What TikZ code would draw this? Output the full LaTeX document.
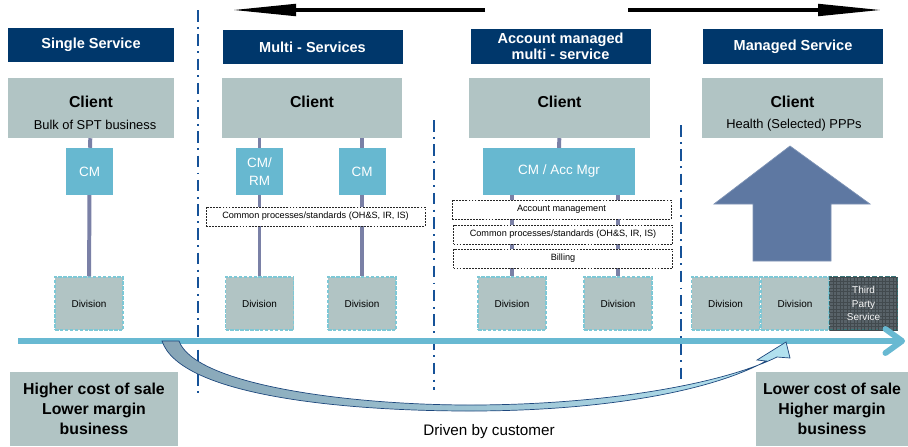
\documentclass[tikz,border=0pt]{standalone}
\usepackage{fontspec}
\setmainfont{Liberation Sans}
\usetikzlibrary{arrows.meta, positioning, patterns}
\usepackage{xcolor}

\definecolor{hdrblue}{RGB}{0,55,107}
\definecolor{clientgrey}{RGB}{177,196,196}
\definecolor{cmblue}{RGB}{103,184,208}
\definecolor{linkslate}{RGB}{122,128,166}
\definecolor{divcyan}{RGB}{125,200,214}
\definecolor{tpgrey}{RGB}{88,98,104}
\definecolor{tpteal}{RGB}{55,115,118}
\definecolor{sepblue}{RGB}{22,82,152}
\definecolor{axisblue}{RGB}{104,185,210}
\definecolor{bigarrow}{RGB}{94,120,162}
\definecolor{curveL}{RGB}{135,165,182}
\definecolor{curveR}{RGB}{178,226,240}
\definecolor{curvedraw}{RGB}{30,72,125}

\begin{document}
\begin{tikzpicture}[
    x=0.03cm, y=-0.03cm,
    hdr/.style={rectangle, fill=hdrblue, text=white, align=center, inner sep=0pt, minimum height=1.04cm, font=\fontsize{12.4}{13.6}\selectfont\bfseries},
    clientbox/.style={rectangle, fill=clientgrey, minimum height=1.8cm},
    clienttxt/.style={inner sep=0pt, font=\fontsize{13.5}{15}\selectfont\bfseries},
    subtxt/.style={inner sep=0pt, font=\fontsize{11}{13}\selectfont},
    cmbox/.style={rectangle, fill=cmblue, text=white, align=center, inner sep=0pt, minimum width=1.41cm, minimum height=1.41cm, font=\fontsize{11.5}{16}\selectfont},
    divbox/.style={rectangle, fill=clientgrey, draw=divcyan, line width=1.1pt, dash pattern=on 3pt off 1.2pt, inner sep=0pt, minimum width=2.04cm, minimum height=1.59cm, font=\fontsize{8.5}{10}\selectfont},
    tpbox/.style={rectangle, fill=tpgrey, postaction={pattern=grid, pattern color=tpgrey!75!black}, draw=tpteal, line width=1.6pt, dash pattern=on 4pt off 1.5pt, text=white!92!gray, align=center, inner sep=0pt, minimum width=2.04cm, minimum height=1.59cm, font=\fontsize{8.5}{11.5}\selectfont},
    combox/.style={rectangle, fill=white, draw=black!85, line width=0.6pt, dash pattern=on 1.6pt off 1pt, inner sep=0pt, minimum width=6.57cm, minimum height=0.57cm, font=\fontsize{7.8}{9}\selectfont},
    costbox/.style={rectangle, fill=clientgrey, align=center, inner sep=0pt, minimum height=2.22cm, font=\fontsize{13.5}{17}\selectfont\bfseries},
    link/.style={draw=linkslate, line width=3.4pt},
    sepline/.style={draw=sepblue, line width=2.4pt, dash pattern=on 10pt off 4.5pt on 1.7pt off 4.5pt},
    toparrow/.style={line width=3.4pt, -{Triangle[length=1.95cm, width=0.34cm]}},
    axis/.style={draw=axisblue, line width=5pt, -{Straight Barb[length=0.5cm, width=0.72cm, round]}}
]
    \useasboundingbox (0,0) rectangle (908,446);

    % separators
    \draw[sepline] (198,10) -- (198,398);
    \draw[sepline] (434,120) -- (434,390);
    \draw[sepline] (681,125) -- (681,380);

    % top arrows
    \coordinate (backA) at (485,10);
    \coordinate (backB) at (231,10);
    \coordinate (fwdA) at (628,10);
    \coordinate (fwdB) at (883,10);
    \draw[toparrow] (backA) -- (backB);
    \draw[toparrow] (fwdA) -- (fwdB);

    % headers
    \node[hdr, minimum width=4.98cm] (single) at (91,45) {Single Service};
    \node[hdr, minimum width=5.4cm] (multi) at (312.5,47) {Multi - Services};
    \node[hdr, minimum width=5.4cm] (acct) at (560.5,46.5) {Account managed\\multi - service};
    \node[hdr, minimum width=5.4cm] (managed) at (793,46.5) {Managed Service};

    % clients
    \node[clientbox, minimum width=4.98cm] (cl1) at (91,108) {};
    \node[clientbox, minimum width=5.4cm] (cl2) at (312,108) {};
    \node[clientbox, minimum width=5.43cm] (cl3) at (559.5,108) {};
    \node[clientbox, minimum width=5.43cm] (cl4) at (792.5,108) {};
    \node[clienttxt] (cl1t) at (91,102) {Client};
    \node[subtxt] (cl1s) at (95,125) {Bulk of SPT business};
    \node[clienttxt] (cl2t) at (312,102) {Client};
    \node[clienttxt] (cl3t) at (559.5,102) {Client};
    \node[clienttxt] (cl4t) at (792.5,102) {Client};
    \node[subtxt] (cl4s) at (794,125) {Health (Selected) PPPs};

    % managers
    \node[cmbox] (cm1) at (89.5,171.5) {CM};
    \node[cmbox] (cmrm) at (259.5,171.5) {CM/\\RM};
    \node[cmbox] (cm2) at (362,171.5) {CM};
    \node[cmbox, minimum width=4.56cm] (cmacc) at (559,171.5) {CM / Acc Mgr};

    % divisions
    \node[divbox] (dv1) at (89,303.5) {Division};
    \node[divbox] (dv2) at (259.5,303.5) {Division};
    \node[divbox] (dv3) at (362,303.5) {Division};
    \node[divbox] (dv4) at (512,303.5) {Division};
    \node[divbox] (dv5) at (618,303.5) {Division};
    \node[divbox] (dv6) at (725.5,303.5) {Division};
    \node[divbox] (dv7) at (795,303.5) {Division};
    \node[tpbox] (third) at (863.5,303.5) {Third\\Party\\Service};

    % links
    \draw[link] (cl1) -- (cm1);
    \draw[link] (cm1) -- (dv1);
    \draw[link] (cl2.south -| cmrm) -- (cmrm);
    \draw[link] (cmrm) -- (dv2);
    \draw[link] (cl2.south -| cm2) -- (cm2);
    \draw[link] (cm2) -- (dv3);
    \draw[link] (cl3) -- (cmacc);
    \draw[link] (cmacc.south -| dv4) -- (dv4);
    \draw[link] (cmacc.south -| dv5) -- (dv5);

    % shared layers
    \node[combox] (common1) at (315.5,216.5) {Common processes/standards (OH\&S, IR, IS)};
    \node[combox] (acctmgmt) at (561.5,209.5) {Account management};
    \node[combox] (common2) at (563,234.5) {Common processes/standards (OH\&S, IR, IS)};
    \node[combox] (billing) at (563,258.5) {Billing};

    % big arrow
    \fill[bigarrow, draw=bigarrow!80!white, line width=0.6pt] (790,146) -- (870,204) -- (831,204) -- (831,261) -- (753,261) -- (753,204) -- (714,204) -- cycle;

    % axis
    \coordinate (axL) at (18,341);
    \coordinate (axR) at (905,341);
    \draw[axis] (axL) -- (axR);

    % driven by customer
    \path[left color=curveL, right color=curveR, draw=curvedraw, line width=0.6pt]
        (162,341) -- (179,341) .. controls (195,385) and (350,405) .. (470,405)
        .. controls (600,405) and (720,385) .. (777,357) -- (790,358) -- (786,342)
        -- (757,360) -- (766,361) .. controls (710,392) and (600,411) .. (470,411)
        .. controls (340,411) and (180,395) .. (162,341) -- cycle;

    \node[costbox, minimum width=5.04cm] (costL) at (94,409) {Higher cost of sale\\Lower margin\\business};
    \node[costbox, minimum width=4.56cm] (costR) at (832,409) {Lower cost of sale\\Higher margin\\business};
    \node[font=\fontsize{13}{15}\selectfont] (driven) at (489,432) {Driven by customer};
\end{tikzpicture}
\end{document}
